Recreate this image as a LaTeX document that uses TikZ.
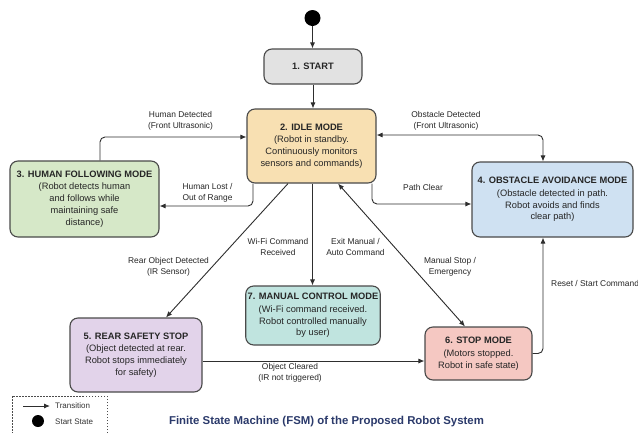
\documentclass[tikz,border=0pt]{standalone}
\usepackage{fontspec}
\setmainfont{Liberation Sans}
\usetikzlibrary{arrows.meta,positioning,calc}
\definecolor{startc}{HTML}{E2E2E2}
\definecolor{idlec}{HTML}{F8E0B2}
\definecolor{humanc}{HTML}{D6E8C8}
\definecolor{obstc}{HTML}{CFE1F2}
\definecolor{manc}{HTML}{C0E4DF}
\definecolor{rearc}{HTML}{E2D3EA}
\definecolor{stopc}{HTML}{F5C8C2}
\definecolor{edgec}{HTML}{4A4A4A}
\definecolor{linec}{HTML}{2E2E2E}
\definecolor{titlec}{HTML}{2B3A6B}
\begin{document}
\begin{tikzpicture}[x=1pt,y=-1pt,
  statebox/.style={draw=edgec, line width=1.1pt, rounded corners=8pt, align=center,
    inner sep=2pt, font=\fontsize{9.3}{11.8}\selectfont, text=black!85},
  conn/.style={draw=linec, line width=0.9pt, rounded corners=5pt, -{Latex[length=6pt,width=5pt]}},
  dconn/.style={draw=linec, line width=0.9pt, rounded corners=5pt, {Latex[length=6pt,width=5pt]}-{Latex[length=6pt,width=5pt]}},
  elabel/.style={align=center, font=\fontsize{8.4}{11}\selectfont, text=black!85, inner sep=1pt},
  legtext/.style={anchor=west, font=\fontsize{8}{10}\selectfont, text=black!80, inner sep=0pt}
]
\useasboundingbox (0,0) rectangle (638,432);
\fill[white] (0,0) rectangle (638,432);

% start dot
\node[circle, fill=black, minimum size=16pt, inner sep=0pt] (dot) at (312.5,18) {};

% states
\node[statebox, fill=startc, minimum width=98pt, minimum height=35pt] (start) at (313,66.5) {\textbf{1. START}};
\node[statebox, fill=idlec, minimum width=129pt, minimum height=74pt] (idle) at (311.5,146)
  {\textbf{2. IDLE MODE}\\[1pt](Robot in standby.\\Continuously monitors\\sensors and commands)};
\node[statebox, fill=humanc, minimum width=149pt, minimum height=76pt] (human) at (84.5,199)
  {\textbf{3. HUMAN FOLLOWING MODE}\\[1pt](Robot detects human\\and follows while\\maintaining safe\\distance)};
\node[statebox, fill=obstc, minimum width=161pt, minimum height=75pt] (obst) at (552.5,199.5)
  {\textbf{4. OBSTACLE AVOIDANCE MODE}\\[1pt](Obstacle detected in path.\\Robot avoids and finds\\clear path)};
\node[statebox, fill=rearc, minimum width=132pt, minimum height=74pt] (rear) at (136,355)
  {\textbf{5. REAR SAFETY STOP}\\[1pt](Object detected at rear.\\Robot stops immediately\\for safety)};
\node[statebox, fill=stopc, minimum width=107pt, minimum height=53pt] (stop) at (478.5,353.5)
  {\textbf{6. STOP MODE}\\[1pt](Motors stopped.\\Robot in safe state)};
\node[statebox, fill=manc, minimum width=130pt, minimum height=59pt] (manual) at (313,315.5)
  {\textbf{7. MANUAL CONTROL MODE}\\[1pt](Wi-Fi command received.\\Robot controlled manually\\by user)};

% connectors
\draw[conn] (dot) -- (dot |- start.north);
\draw[conn] (start.south) -- (start.south |- idle.north);
\draw[conn] ([xshift=15.5pt]human.north) |- ([yshift=9pt]idle.west);
\draw[conn] ([xshift=-58.5pt]idle.south) |- ([yshift=-7pt]human.east);
\draw[dconn] ([yshift=11pt]idle.east) -| ([xshift=-9.5pt]obst.north);
\draw[conn] ([xshift=60.5pt]idle.south) |- ([yshift=-4.5pt]obst.west);
\draw[conn] ([xshift=-23.5pt]idle.south) -- ([xshift=30pt]rear.north);
\draw[conn] ([xshift=1pt]idle.south) -- ([xshift=1pt]idle.south |- manual.north);
\draw[dconn] ([xshift=26.5pt]idle.south) -- ([xshift=-13.5pt]stop.north);
\draw[conn] ([yshift=-6pt]rear.east) -- ([yshift=-6pt]rear.east -| stop.west);
\draw[conn] (stop.east) -| ([xshift=-9.5pt]obst.south);

% edge labels
\node[elabel] (l1) at (180.5,121) {Human Detected\\(Front Ultrasonic)};
\node[elabel] (l2) at (207.5,193) {Human Lost /\\Out of Range};
\node[elabel] (l3) at (446,121) {Obstacle Detected\\(Front Ultrasonic)};
\node[elabel] (l4) at (423,187) {Path Clear};
\node[elabel] (l5) at (168.5,267) {Rear Object Detected\\(IR Sensor)};
\node[elabel] (l6) at (278,247) {Wi-Fi Command\\Received};
\node[elabel] (l7) at (355.5,247) {Exit Manual /\\Auto Command};
\node[elabel] (l8) at (450,267) {Manual Stop /\\Emergency};
\node[elabel] (l9) at (290,373) {Object Cleared\\(IR not triggered)};
\node[elabel, anchor=west] (l10) at (550,283) {Reset / Start Command};

% legend
\draw[draw=black!70, line width=0.7pt, dash pattern=on 1.5pt off 1.5pt] (12,396) rectangle (107,436);
\coordinate (la) at (23,406);
\coordinate (lb) at (50,406);
\draw[conn] (la) -- (lb);
\node[legtext] (lt1) at (55,406) {Transition};
\node[circle, fill=black, minimum size=12pt, inner sep=0pt] (ldot) at (38,421) {};
\node[legtext] (lt2) at (55,421.5) {Start State};

% title
\node[font=\fontsize{11.4}{13}\selectfont\bfseries, text=titlec] (title) at (326.5,422)
  {Finite State Machine (FSM) of the Proposed Robot System};
\end{tikzpicture}
\end{document}
